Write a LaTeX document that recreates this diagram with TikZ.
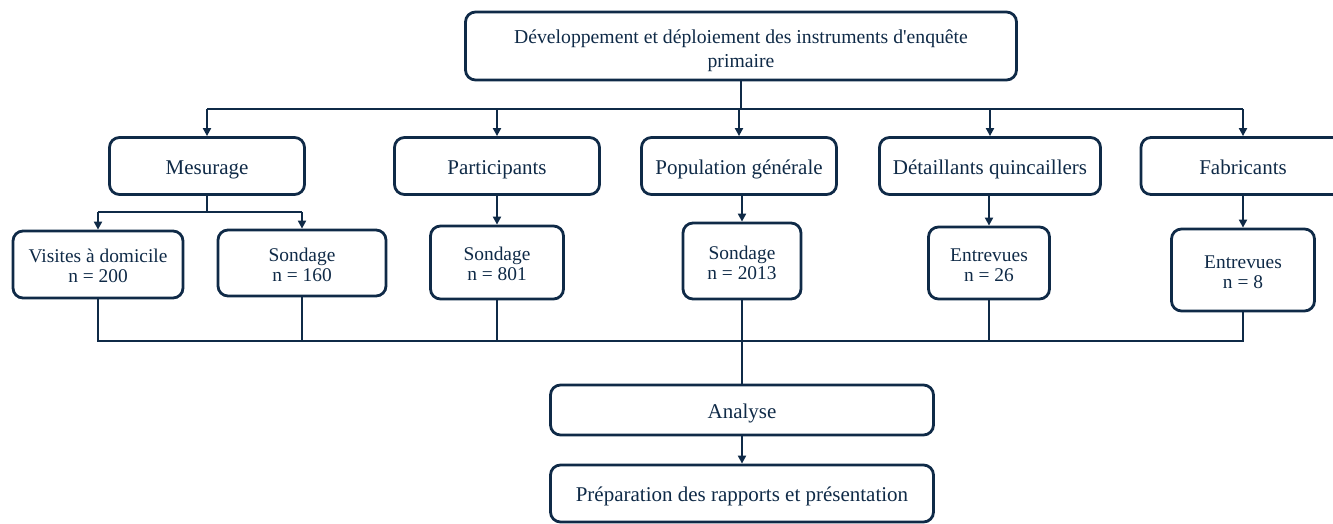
\documentclass[tikz,border=0pt]{standalone}
\usepackage{fontspec}
\setmainfont{Liberation Serif}
\usetikzlibrary{arrows.meta}
\definecolor{navy}{HTML}{0F2A47}
\tikzset{
  box/.style={draw=navy, line width=2.8pt, rounded corners=10pt, text=navy, align=center, inner sep=0pt},
  big/.style={font=\fontsize{21}{23}\selectfont, text height=21pt, text depth=4.5pt},
  small/.style={font=\fontsize{19.4}{20}\selectfont, text height=37pt},
  conn/.style={draw=navy, line width=1.9pt},
  arr/.style={conn, -{Triangle[length=8pt,width=8pt]}}
}
\begin{document}
\begin{tikzpicture}[x=1pt,y=-1pt]
\useasboundingbox (0,0) rectangle (1333,523);
% top
\node[box, font=\fontsize{19.7}{24}\selectfont, text height=48pt, minimum width=551pt, minimum height=68pt] (top) at (741,46) {Développement et déploiement des instruments d\textquotesingle enquête\\primaire};
% level 2
\node[box, big, minimum width=195pt, minimum height=57pt] (mes) at (207,166) {Mesurage};
\node[box, big, minimum width=205pt, minimum height=57pt] (par) at (497,166) {Participants};
\node[box, big, minimum width=195pt, minimum height=57pt] (pop) at (739,166) {Population générale};
\node[box, big, minimum width=221pt, minimum height=57pt] (det) at (990,166) {Détaillants quincaillers};
\node[box, big, minimum width=204pt, minimum height=57pt] (fab) at (1243,166) {Fabricants};
% level 3
\node[box, small, minimum width=170pt, minimum height=67pt] (vis) at (98,264.5) {Visites à domicile\\n = 200};
\node[box, small, minimum width=168pt, minimum height=66pt] (s160) at (302,263) {Sondage\\n = 160};
\node[box, small, minimum width=133pt, minimum height=73pt] (s801) at (497,262.5) {Sondage\\n = 801};
\node[box, small, minimum width=118pt, minimum height=76pt] (s2013) at (742,261) {Sondage\\n = 2013};
\node[box, small, minimum width=121pt, minimum height=72pt] (e26) at (989,263) {Entrevues\\n = 26};
\node[box, small, minimum width=143pt, minimum height=82pt] (e8) at (1243,270) {Entrevues\\n = 8};
% bottom
\node[box, big, minimum width=383pt, minimum height=50pt] (ana) at (742,410) {Analyse};
\node[box, big, minimum width=383pt, minimum height=57pt] (prep) at (742,493.5) {Préparation des rapports et présentation};
% connectors
\coordinate (h) at (0,109);
\coordinate (m) at (0,212);
\coordinate (b) at (0,341);
\draw[conn] (top.south) -- (top.south |- h);
\draw[conn] (mes.north |- h) -- (fab.north |- h);
\foreach \n in {mes,par,pop,det,fab}{
  \draw[arr] (\n.north |- h) -- (\n.north);
}
\draw[conn] (mes.south) -- (mes.south |- m);
\draw[conn] (vis.north |- m) -- (s160.north |- m);
\draw[arr] (vis.north |- m) -- (vis.north);
\draw[arr] (s160.north |- m) -- (s160.north);
\draw[arr] (par.south -| s801.north) -- (s801.north);
\draw[arr] (pop.south -| s2013.north) -- (s2013.north);
\draw[arr] (det.south -| e26.north) -- (e26.north);
\draw[arr] (fab.south) -- (e8.north);
\draw[conn] (vis.south) -- (vis.south |- b) -- (e8.south |- b) -- (e8.south);
\foreach \n in {s160,s801,e26}{
  \draw[conn] (\n.south) -- (\n.south |- b);
}
\draw[conn] (s2013.south) -- (ana.north);
\draw[arr] (ana.south) -- (prep.north);
\end{tikzpicture}
\end{document}
